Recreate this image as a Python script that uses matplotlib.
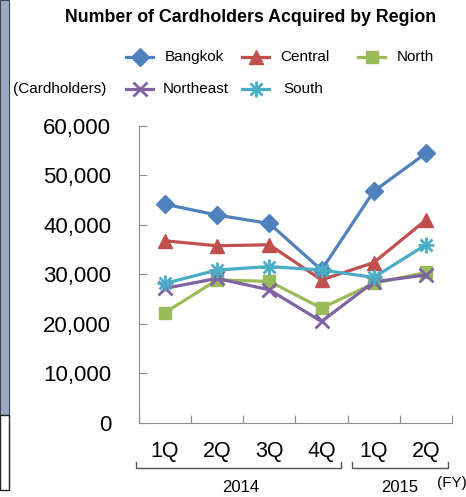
import matplotlib
matplotlib.use("Agg")
import matplotlib.pyplot as plt
import matplotlib.patches as patches
from matplotlib.lines import Line2D
from matplotlib.ticker import FuncFormatter

# data
quarters = ["1Q", "2Q", "3Q", "4Q", "1Q", "2Q"]
years = ["2014", "2015"]
bangkok = [44200, 42000, 40300, 30900, 46800, 54500]
central = [36800, 35800, 36000, 28900, 32400, 41000]
north = [22300, 28900, 28600, 23200, 28200, 30400]
northeast = [27200, 29200, 26900, 20500, 28500, 29900]
south = [28200, 30900, 31600, 30900, 29400, 36000]

plt.rcParams['font.family'] = ['Liberation Sans', 'DejaVu Sans']

fig = plt.figure(figsize=(4.66, 4.97), dpi=100)
ax = fig.add_axes([0.298, 0.149, 0.672, 0.5975])

x = list(range(1, len(quarters) + 1))
series = [
    ("Bangkok", bangkok, "#4F81BD", "D", 9),
    ("Central", central, "#C0504D", "^", 10),
    ("North", north, "#9BBB59", "s", 9),
    ("Northeast", northeast, "#8064A2", "x", 10),
    ("South", south, "#4BACC6", "*", 0),
]
lines = {}
for name, vals, col, mk, ms in series:
    if name == "South":
        # asterisk marker: plus + x overlaid
        ln, = ax.plot(x, vals, color=col, lw=2.3, marker="+", ms=11, mew=2.0)
        ax.plot(x, vals, color=col, lw=0, marker="x", ms=9, mew=2.0)
    elif mk == "x":
        ln, = ax.plot(x, vals, color=col, lw=2.3, marker=mk, ms=ms, mew=2.0)
    else:
        ln, = ax.plot(x, vals, color=col, lw=2.3, marker=mk, ms=ms)
    lines[name] = ln

ax.set_xlim(0.5, len(quarters) + 0.5)
ax.set_ylim(0, 60000)
ax.set_yticks(range(0, 60001, 10000))
ax.yaxis.set_major_formatter(FuncFormatter(lambda v, p: f"{int(v):,}"))
ax.set_xticks([i + 0.5 for i in range(len(quarters) + 1)])
ax.set_xticklabels([])
ax.set_xticks(x, minor=True)
ax.set_xticklabels(quarters, minor=True)
ax.tick_params(axis="both", which="major", direction="in", length=6, color="#8c8c8c")
ax.tick_params(axis="y", labelsize=16, pad=20)
ax.tick_params(axis="x", which="minor", length=0, labelsize=15.5, pad=13)
for s in ["top", "right"]:
    ax.spines[s].set_visible(False)
for s in ["left", "bottom"]:
    ax.spines[s].set_color("#8c8c8c")

# year brackets under the quarter labels
trans = ax.get_xaxis_transform()
brackets = [(0.44, 4.37, years[0], 2.45), (4.58, 6.42, years[1], 5.5)]
for x0, x1, label, xt in brackets:
    ax.plot([x0, x0, x1, x1], [-0.131, -0.152, -0.152, -0.131], color="#555555",
            lw=1.0, transform=trans, clip_on=False)
    ax.text(xt, -0.219, label, transform=trans, ha="center", va="center", fontsize=12)
ax.text(6.5, -0.202, "(FY)", transform=trans, ha="center", va="center", fontsize=11)

fig.text(0.537, 0.964, "Number of Cardholders Acquired by Region", ha="center",
         va="center", fontsize=12.8, fontweight="bold")
fig.text(0.028, 0.821, "(Cardholders)", ha="left", va="center", fontsize=11)

# legend laid out like the original, two rows
W, H = 466.0, 497.0
legend_pos = {
    "Bangkok": (126, 57, 165),
    "Central": (242, 57, 280),
    "North": (358, 57, 397),
    "Northeast": (126, 89, 163),
    "South": (242, 89, 283),
}
for name, (lx, ly, tx) in legend_pos.items():
    src = lines[name]
    fy = 1 - ly / H
    fig.add_artist(Line2D([lx / W, (lx + 27) / W], [fy, fy], color=src.get_color(),
                          lw=2.3, transform=fig.transFigure))
    mk = src.get_marker()
    if name == "South":
        fig.add_artist(Line2D([(lx + 13.5) / W], [fy], color=src.get_color(), marker="+",
                              ms=11, mew=2.0, transform=fig.transFigure))
        mk = "x"
    fig.add_artist(Line2D([(lx + 13.5) / W], [fy], color=src.get_color(), marker=mk,
                          ms=src.get_markersize() if name != "South" else 9,
                          mew=src.get_markeredgewidth(), transform=fig.transFigure))
    fig.text(tx / W, fy, name, ha="left", va="center", fontsize=11)

# leftover strip of the neighbouring slide on the left edge
fig.add_artist(patches.Rectangle((0, 1 - 415 / H), 9 / W, 415 / H, transform=fig.transFigure,
                                 facecolor="#9aaac4", edgecolor="#444444", lw=0.8))
fig.add_artist(patches.Rectangle((0, 1 - 490 / H), 9 / W, 75 / H, transform=fig.transFigure,
                                 facecolor="white", edgecolor="#222222", lw=1.0))

fig.savefig("out.png", dpi=100)
